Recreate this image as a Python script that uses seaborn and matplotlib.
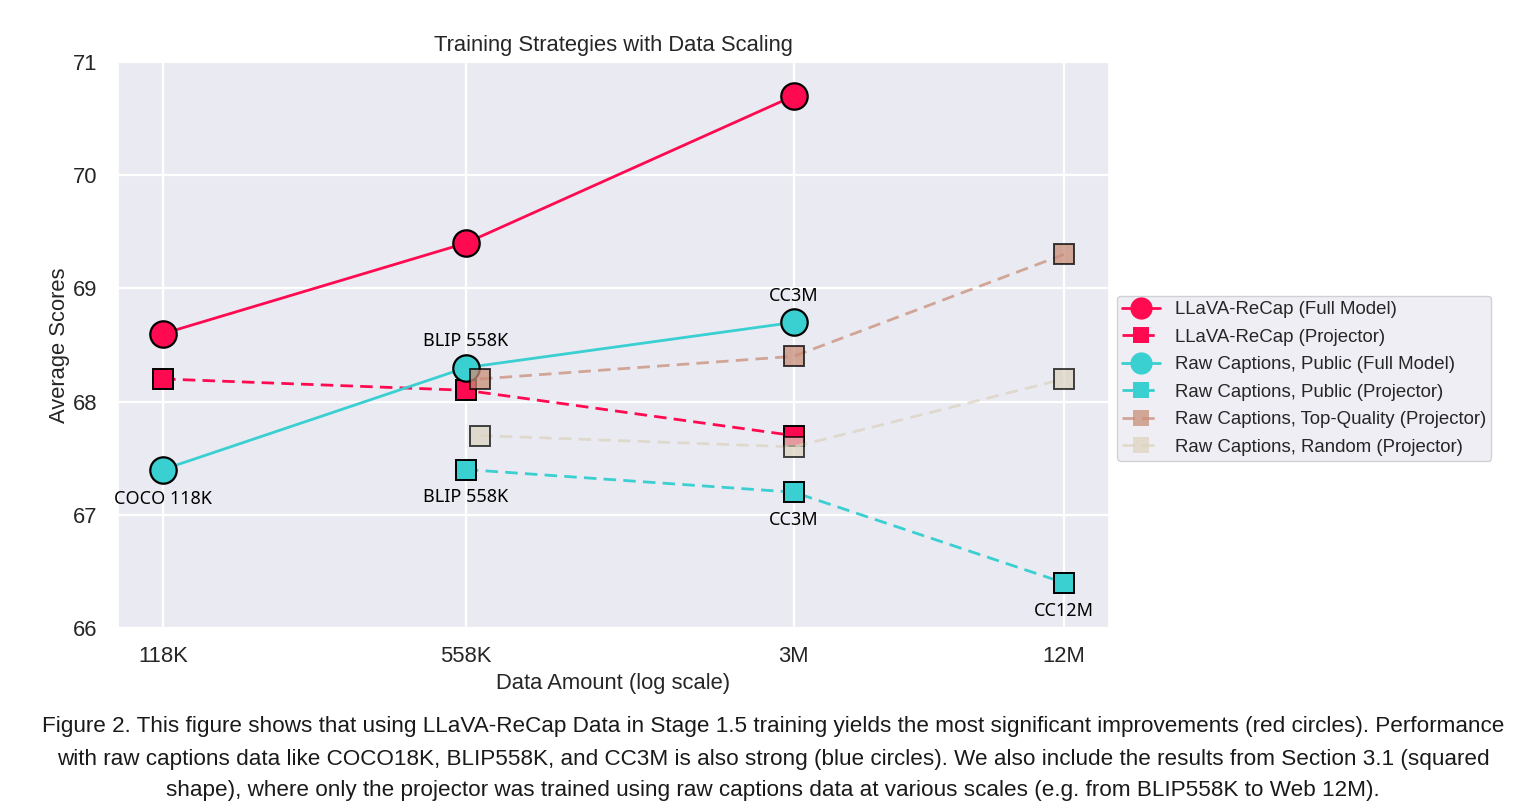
import matplotlib
matplotlib.use("Agg")
import matplotlib.pyplot as plt
from matplotlib.lines import Line2D
from matplotlib.ticker import FixedLocator, FixedFormatter, NullLocator
import seaborn as sns

# Data amounts (number of image-caption pairs)
full_sizes = [118e3, 558e3, 3e6]
public_proj_sizes = [558e3, 3e6, 12e6]
subset_sizes = [600e3, 3e6, 12e6]

# Average benchmark scores
recap_full = [68.6, 69.4, 70.7]
recap_proj = [68.2, 68.1, 67.7]
public_full = [67.4, 68.3, 68.7]
public_proj = [67.4, 67.2, 66.4]
top_quality_proj = [68.2, 68.4, 69.3]
random_proj = [67.7, 67.6, 68.2]

tick_values = [118e3, 558e3, 3e6, 12e6]
tick_labels = ["118K", "558K", "3M", "12M"]

series_labels = [
    "LLaVA-ReCap (Full Model)",
    "LLaVA-ReCap (Projector)",
    "Raw Captions, Public (Full Model)",
    "Raw Captions, Public (Projector)",
    "Raw Captions, Top-Quality (Projector)",
    "Raw Captions, Random (Projector)",
]

full_labels = ["COCO 118K", "BLIP 558K", "CC3M"]
proj_labels = ["BLIP 558K", "CC3M", "CC12M"]

caption_lines = [
    "Figure 2. This figure shows that using LLaVA-ReCap Data in Stage 1.5 training yields the most significant improvements (red circles). Performance",
    "with raw captions data like COCO18K, BLIP558K, and CC3M is also strong (blue circles). We also include the results from Section 3.1 (squared",
    "shape), where only the projector was trained using raw captions data at various scales (e.g. from BLIP558K to Web 12M).",
]

RED = "#FF0A50"
CYAN = "#3ACFD0"
TAN = "#C98E78"
BEIGE = "#DCD3BF"

sns.set_theme(style="darkgrid")
plt.rcParams["font.family"] = ["Liberation Sans", "DejaVu Sans"]

fig = plt.figure(figsize=(15.37, 8.11), dpi=100)
fig.patch.set_facecolor("white")
ax = fig.add_axes([0.0768, 0.2256, 0.6447, 0.698])

LW = 2.0
CIRCLE = 19
SQUARE = 14
DASH = (4.5, 2.6)
FS = 15.8

sns.lineplot(x=full_sizes, y=recap_full, ax=ax, color=RED, lw=LW, marker="o",
             markersize=CIRCLE, markeredgecolor="black", markeredgewidth=1.6)
sns.lineplot(x=full_sizes, y=recap_proj, ax=ax, color=RED, lw=LW, marker="s",
             markersize=SQUARE, markeredgecolor="black", markeredgewidth=1.4,
             dashes=DASH)
sns.lineplot(x=full_sizes, y=public_full, ax=ax, color=CYAN, lw=LW, marker="o",
             markersize=CIRCLE, markeredgecolor="black", markeredgewidth=1.6)
sns.lineplot(x=public_proj_sizes, y=public_proj, ax=ax, color=CYAN, lw=LW,
             marker="s", markersize=SQUARE, markeredgecolor="black",
             markeredgewidth=1.4, dashes=DASH)
sns.lineplot(x=subset_sizes, y=top_quality_proj, ax=ax, color=TAN, lw=LW,
             marker="s", markersize=SQUARE, markeredgecolor="black",
             markeredgewidth=1.4, dashes=DASH, alpha=0.75)
sns.lineplot(x=subset_sizes, y=random_proj, ax=ax, color=BEIGE, lw=LW,
             marker="s", markersize=SQUARE, markeredgecolor="black",
             markeredgewidth=1.4, dashes=DASH, alpha=0.72)

ax.set_xscale("log")
ax.xaxis.set_major_locator(FixedLocator(tick_values))
ax.xaxis.set_major_formatter(FixedFormatter(tick_labels))
ax.xaxis.set_minor_locator(NullLocator())
ax.set_ylim(66, 71)
ax.set_yticks([66, 67, 68, 69, 70, 71])
ax.grid(True, which="major", color="white", lw=1.6)
ax.tick_params(axis="x", labelsize=FS, pad=7, colors="#262626")
ax.tick_params(axis="y", labelsize=FS, pad=9, colors="#262626")

ax.set_title("Training Strategies with Data Scaling", fontsize=FS, pad=8,
             color="#262626")
ax.set_xlabel("Data Amount (log scale)", fontsize=FS, labelpad=4,
              color="#262626")
ax.set_ylabel("Average Scores", fontsize=FS, labelpad=2, color="#262626")

# Dataset names next to the raw-caption points
ann_font = ["Noto Sans", "DejaVu Sans"]
above = [False, True, True]
for x, y, name, up in zip(full_sizes, public_full, full_labels, above):
    ax.annotate(name, (x, y), xytext=(0, 19 if up else -21),
                textcoords="offset points", ha="center", va="center",
                fontsize=13, family=ann_font, color="black")
for x, y, name in zip(public_proj_sizes, public_proj, proj_labels):
    ax.annotate(name, (x, y), xytext=(0, -20), textcoords="offset points",
                ha="center", va="center", fontsize=13, family=ann_font,
                color="black")

handle_specs = [
    (RED, "o", "-", 16, 1.0),
    (RED, "s", "--", 12, 1.0),
    (CYAN, "o", "-", 16, 1.0),
    (CYAN, "s", "--", 12, 1.0),
    (TAN, "s", "--", 12, 0.75),
    (BEIGE, "s", "--", 12, 0.72),
]
handles = [
    Line2D([], [], color=c, marker=m, linestyle=ls, lw=LW, markersize=ms,
           markeredgewidth=0, alpha=a, dashes=DASH if ls == "--" else (None, None))
    for c, m, ls, ms, a in handle_specs
]
leg = ax.legend(handles, series_labels, loc="upper left",
                bbox_to_anchor=(1.008, 0.587), fontsize=13.4, frameon=True,
                labelspacing=0.56, handlelength=2.0, handletextpad=0.8,
                borderpad=0.3, borderaxespad=0.0)
leg.get_frame().set_edgecolor("#C8C8CC")
leg.get_frame().set_facecolor("#EAEAF2")

caption_y = [0.104, 0.064, 0.025]
for y, line in zip(caption_y, caption_lines):
    fig.text(0.503, y, line, ha="center", va="center", fontsize=16.2,
             color="#1A1A1A")

fig.savefig("out.png", dpi=100, facecolor="white")
